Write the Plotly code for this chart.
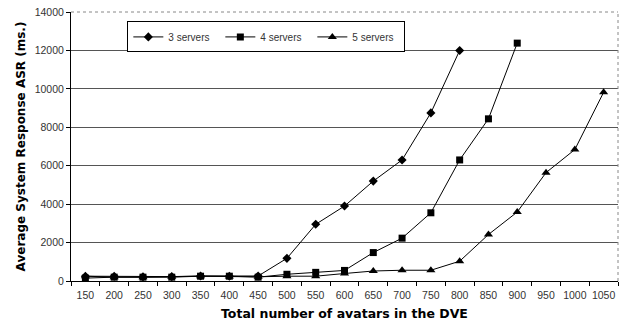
import plotly.graph_objects as go

categories = [150, 200, 250, 300, 350, 400, 450, 500, 550, 600, 650, 700, 750, 800, 850, 900, 950, 1000, 1050]
s3 = [250, 250, 220, 230, 260, 250, 260, 1180, 2950, 3900, 5200, 6300, 8750, 12000]
s4 = [150, 200, 200, 200, 250, 250, 200, 350, 450, 550, 1480, 2230, 3550, 6300, 8440, 12380]
s5 = [250, 200, 200, 220, 250, 230, 220, 250, 250, 390, 520, 560, 560, 1030, 2420, 3590, 5640, 6840, 9820]
cat_labels = [str(c) for c in categories]
y_ticks = [0, 2000, 4000, 6000, 8000, 10000, 12000, 14000]
y_labels = [str(v) for v in y_ticks]

fig = go.Figure()
series = [("3 servers", s3, "diamond", 7), ("4 servers", s4, "square", 7), ("5 servers", s5, "triangle-up", 8)]
for name, vals, sym, sz in series:
    fig.add_trace(go.Scatter(
        x=cat_labels[:len(vals)], y=vals, name=name, mode="lines+markers",
        line=dict(color="black", width=1),
        marker=dict(symbol=sym, size=sz, color="black"),
    ))

tickfont = dict(family="Liberation Sans, Arial", size=10.5, color="#333")

fig.update_layout(
    width=623, height=326,
    margin=dict(l=71, r=5, t=12, b=45, autoexpand=False),
    paper_bgcolor="white", plot_bgcolor="white",
    font=dict(family="Liberation Sans, Arial", size=11, color="black"),
    showlegend=True,
    legend=dict(orientation="h", x=0.103, y=0.965, xanchor="left", yanchor="top",
                bordercolor="black", borderwidth=1, bgcolor="white",
                font=dict(family="Liberation Sans, Arial", size=10, color="#333"),
                itemwidth=30, entrywidth=47, entrywidthmode="pixels"),
    xaxis=dict(type="category", categoryorder="array", categoryarray=cat_labels,
               tickvals=cat_labels, ticktext=cat_labels, tickangle=0,
               range=[-0.5, len(categories) - 0.5], automargin=False,
               showline=True, linecolor="black", linewidth=1,
               ticks="outside", ticklen=4, tickcolor="black", tickson="boundaries",
               ticklabelstandoff=4,
               showgrid=False, zeroline=False, tickfont=tickfont),
    yaxis=dict(range=[0, 14000], tickvals=y_ticks, ticktext=y_labels, automargin=False,
               showline=True, linecolor="black", linewidth=1,
               ticks="outside", ticklen=4, tickcolor="black",
               showgrid=True, gridcolor="#555555", gridwidth=1, zeroline=False,
               tickfont=tickfont,
               title=dict(text="<b>Average System Response ASR (ms.)</b>",
                          font=dict(family="DejaVu Sans", size=12), standoff=6)),
    annotations=[
        dict(text="<b>Total number of avatars in the DVE</b>", xref="paper", yref="paper",
             x=0.5, y=-0.12, xanchor="center", yanchor="middle", showarrow=False,
             font=dict(family="DejaVu Sans", size=12.5, color="black")),
    ],
    shapes=[
        dict(type="line", xref="paper", yref="paper", x0=0.002, x1=1, y0=1, y1=1,
             line=dict(color="white", width=2)),
        dict(type="line", xref="paper", yref="paper", x0=0, x1=1, y0=1, y1=1,
             line=dict(color="#888888", width=1, dash="dot")),
        dict(type="line", xref="paper", yref="paper", x0=1, x1=1, y0=0, y1=1,
             line=dict(color="#888888", width=1, dash="dot")),
    ],
)
fig.write_html("out.html", config={"displayModeBar": False},
               post_script="document.body.style.margin='0';document.body.style.padding='0';")
